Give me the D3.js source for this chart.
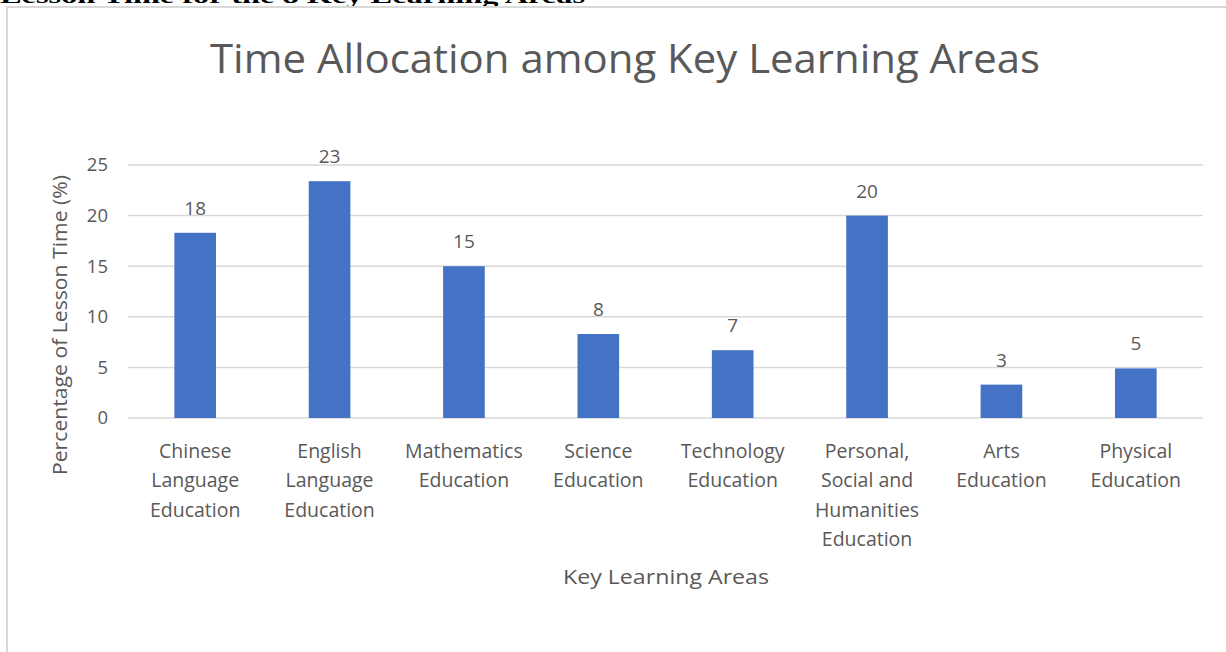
<!DOCTYPE html>
<html>
<head>
<meta charset="utf-8">
<script src="https://cdn.jsdelivr.net/npm/d3@7"></script>
<style>
  html, body { margin: 0; padding: 0; background: #fff; }
  svg { display: block; }
  text { font-family: "Open Sans", "Noto Sans", sans-serif; fill: #595959; }
</style>
</head>
<body>
<svg id="chart" width="1226" height="652"></svg>
<script>
const categories = [
  ["Chinese", "Language", "Education"],
  ["English", "Language", "Education"],
  ["Mathematics", "Education"],
  ["Science", "Education"],
  ["Technology", "Education"],
  ["Personal,", "Social and", "Humanities", "Education"],
  ["Arts", "Education"],
  ["Physical", "Education"]
];
const values = [18.3, 23.4, 15.0, 8.3, 6.7, 20.0, 3.3, 4.9];
const valueLabels = ["18", "23", "15", "8", "7", "20", "3", "5"];
const yTicks = [0, 5, 10, 15, 20, 25];
const chartTitle = "Time Allocation among Key Learning Areas";
const pageHeading = "Lesson Time for the 8 Key Learning Areas";
const xTitle = "Key Learning Areas";
const yTitle = "Percentage of Lesson Time (%)";

const svg = d3.select("#chart");

// page heading (cut off at the top, as in the source document)
svg.append("text")
  .attr("x", 0).attr("y", 3)
  .attr("textLength", 585).attr("lengthAdjust", "spacingAndGlyphs")
  .style("font-family", "'Liberation Serif', serif")
  .style("font-weight", "bold").style("font-size", "22px").style("fill", "#000")
  .text(pageHeading);

// chart frame
svg.append("rect")
  .attr("x", 7).attr("y", 7).attr("width", 1240).attr("height", 660)
  .attr("fill", "#fff").attr("stroke", "#d9d9d9").attr("stroke-width", 2);

const x = d3.scaleBand().domain(d3.range(categories.length)).range([128, 1203]).paddingInner(0.69).paddingOuter(0.345);
const y = d3.scaleLinear().domain([0, 25]).range([418, 165]);

// gridlines
svg.append("g").selectAll("line").data(yTicks).join("line")
  .attr("x1", 128).attr("x2", 1203)
  .attr("y1", d => y(d)).attr("y2", d => y(d))
  .attr("stroke", "#d9d9d9").attr("stroke-width", 1.5);

// y tick labels
svg.append("g").selectAll("text").data(yTicks).join("text")
  .attr("x", 108).attr("y", d => y(d)).attr("dy", "0.35em")
  .attr("text-anchor", "end").style("font-size", "18.5px")
  .text(d => d);

// bars
svg.append("g").selectAll("rect").data(values).join("rect")
  .attr("x", (d, i) => x(i)).attr("width", x.bandwidth())
  .attr("y", d => y(d)).attr("height", d => y(0) - y(d))
  .attr("fill", "#4472c4");

// value labels
svg.append("g").selectAll("text").data(values).join("text")
  .attr("x", (d, i) => x(i) + x.bandwidth() / 2)
  .attr("y", d => y(d) - 18)
  .attr("text-anchor", "middle").style("font-size", "19px")
  .text((d, i) => valueLabels[i]);

// category labels
const cg = svg.append("g").selectAll("text").data(categories).join("text")
  .attr("text-anchor", "middle").style("font-size", "19.5px");
cg.each(function(lines, i) {
  const t = d3.select(this);
  lines.forEach((ln, j) => {
    t.append("tspan")
      .attr("x", x(i) + x.bandwidth() / 2)
      .attr("y", 458 + j * 29.3)
      .text(ln);
  });
});

// axis titles
svg.append("text")
  .attr("x", 666).attr("y", 584)
  .attr("text-anchor", "middle").style("font-size", "20px")
  .attr("textLength", 206).attr("lengthAdjust", "spacingAndGlyphs")
  .text(xTitle);

svg.append("text")
  .attr("transform", "translate(67,325) rotate(-90)")
  .attr("text-anchor", "middle").style("font-size", "20px")
  .attr("textLength", 300).attr("lengthAdjust", "spacingAndGlyphs")
  .text(yTitle);

// chart title
svg.append("text")
  .attr("x", 625).attr("y", 73)
  .attr("text-anchor", "middle").style("font-size", "41px")
  .attr("textLength", 830).attr("lengthAdjust", "spacingAndGlyphs")
  .text(chartTitle);
</script>
</body>
</html>
